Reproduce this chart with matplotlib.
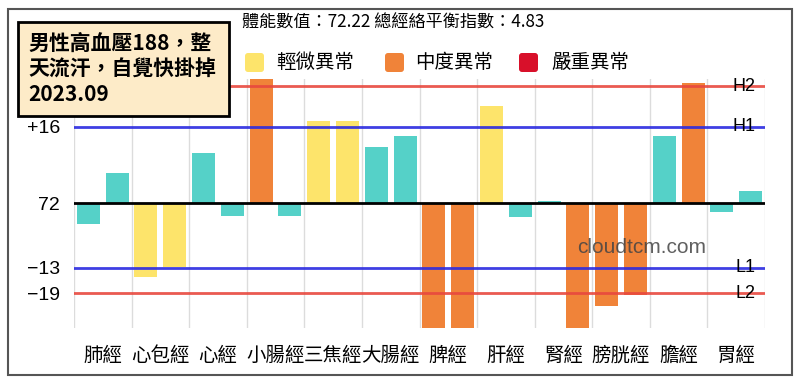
import matplotlib
matplotlib.use('Agg')
import matplotlib.pyplot as plt
from matplotlib.patches import FancyBboxPatch, Rectangle
from matplotlib.transforms import IdentityTransform
import numpy as np

plt.rcParams['font.family'] = ['Noto Sans CJK TC', 'DejaVu Sans']

# --- 資料 ---
categories = ['肺經', '心包經', '心經', '小腸經', '三焦經', '大腸經',
              '脾經', '肝經', '腎經', '膀胱經', '膽經', '胃經']
# 每經兩柱（左、右），數值為相對 72 的偏差
left_vals = [-4.5, -15.5, 10.5, 27.0, 17.3, 11.7, -27.0, 20.4, 0.4, -21.6, 14.2, -1.8]
right_vals = [6.4, -13.4, -2.7, -2.7, 17.3, 14.1, -27.0, -2.9, -27.0, -19.4, 25.2, 2.5]
left_level = ['n', 'y', 'n', 'o', 'y', 'n', 'o', 'y', 'n', 'o', 'n', 'n']
right_level = ['n', 'y', 'n', 'n', 'y', 'n', 'o', 'n', 'o', 'o', 'o', 'n']

base_value = 72
ref_lines = {'H2': 24.6, 'H1': 16, 'L1': -13.6, 'L2': -19}
ytick_pos = [16, 0, -13.6, -19]
ytick_lab = ['+16', '72', '\u221213', '\u221219']

title_text = '體能數值：72.22 總經絡平衡指數：4.83'
note_text = '男性高血壓188，整\n天流汗，自覺快掛掉\n2023.09'
legend_labels = ['輕微異常', '中度異常', '嚴重異常']

# --- 樣式 ---
COLORS = {'n': '#55D1C8', 'y': '#FDE46B', 'o': '#F08339', 'r': '#D8102A'}
RED = '#E8483E'
BLUE = '#2A2AE0'
W, H = 800, 385

fig = plt.figure(figsize=(W / 100, H / 100), dpi=100)
fig.patch.set_facecolor('white')

def px(x, y):
    return x / W, 1 - y / H

# 外框
fig.patches.append(Rectangle(px(8, 375), (792 - 8) / W, (375 - 9) / H,
                             transform=fig.transFigure, fill=False,
                             edgecolor='#555555', linewidth=1.5))

ax = fig.add_axes([74 / W, 1 - 328 / H, (765 - 74) / W, (328 - 79) / H])
x = np.arange(len(categories))
ax.bar(x - 0.25, left_vals, width=0.4, color=[COLORS[c] for c in left_level], zorder=2)
ax.bar(x + 0.25, right_vals, width=0.4, color=[COLORS[c] for c in right_level], zorder=2)

ax.set_xlim(-0.5, len(categories) - 0.5)
ax.set_ylim(-26.3, 26.1)

# 分隔格線
for b in np.arange(-0.5, len(categories), 1.0):
    ax.axvline(b, color='#DCDCDC', linewidth=1, zorder=1)

for name, v in ref_lines.items():
    col = RED if name in ('H2', 'L2') else BLUE
    ax.axhline(v, color=col, linewidth=2, alpha=0.9, zorder=3)
    ax.text(len(categories) - 0.67, v, name, ha='right', va='center',
            fontsize=13, family=['Liberation Sans', 'DejaVu Sans'], zorder=4)
ax.axhline(0, color='black', linewidth=2, zorder=3)

ax.set_xticks(x)
ax.set_xticklabels(categories, fontsize=14)
ax.set_yticks(ytick_pos)
ax.set_yticklabels(ytick_lab, fontsize=14, family=['Liberation Sans', 'DejaVu Sans'])
ax.tick_params(axis='x', length=0, pad=12)
ax.tick_params(axis='y', length=0, pad=10)
for s in ax.spines.values():
    s.set_visible(False)

# 浮水印
ax.text(9.36, -9.3, 'cloudtcm.com', fontsize=15, color='#444444', alpha=0.85,
        ha='center', va='center', family=['Liberation Sans', 'DejaVu Sans'], zorder=5)

# 標題
fig.text(*px(242, 23), title_text, fontsize=12.3, ha='left', va='center')

# 圖例
legend_sq = [245, 385, 519]
legend_tx = [276, 415, 551]
for sx, tx, lab, key in zip(legend_sq, legend_tx, legend_labels, ['y', 'o', 'r']):
    fig.patches.append(FancyBboxPatch((sx, H - 72), 19, 19,
                                      boxstyle='round,pad=0,rounding_size=3',
                                      transform=IdentityTransform(),
                                      facecolor=COLORS[key], edgecolor='none'))
    fig.text(*px(tx, 62), lab, fontsize=14, ha='left', va='center')

# 註解框
fig.patches.append(Rectangle(px(18, 116), (229 - 18) / W, (116 - 22) / H,
                             transform=fig.transFigure, facecolor='#FDEBC8',
                             edgecolor='black', linewidth=2, zorder=10))
fig.text(*px(28, 69), note_text, fontsize=15, fontweight='bold', ha='left',
         va='center', linespacing=1.25, zorder=11)

fig.savefig('out.png', dpi=100)
